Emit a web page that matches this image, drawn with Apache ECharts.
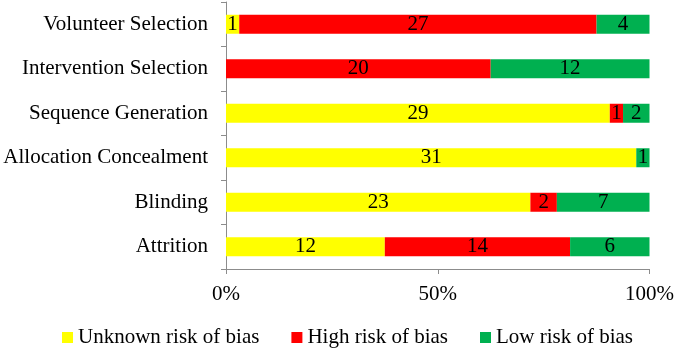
<!DOCTYPE html>
<html>
<head>
<meta charset="utf-8">
<script src="https://cdn.jsdelivr.net/npm/echarts@6/dist/echarts.min.js"></script>
<style>
  html, body { margin: 0; padding: 0; background: #fff; }
  #chart { width: 677px; height: 348px; }
</style>
</head>
<body>
<div id="chart"></div>
<script>
// domains, top to bottom
const domains = ['Volunteer Selection', 'Intervention Selection', 'Sequence Generation',
  'Allocation Concealment', 'Blinding', 'Attrition'];
// number of studies per domain
const unknownRisk = [1, 0, 29, 31, 23, 12];
const highRisk = [27, 20, 1, 0, 2, 14];
const lowRisk = [4, 12, 2, 1, 7, 6];
const totalStudies = 32;
const tickPercents = ['0%', '50%', '100%'];

const font = '"Liberation Serif", "Times New Roman", serif';
const axisGrey = '#8c8c8c';

function barSeries(name, data, color) {
  return {
    name: name,
    type: 'bar',
    stack: 'risk',
    barWidth: 19,
    data: data,
    itemStyle: { color: color },
    label: {
      show: true,
      position: 'inside',
      color: '#000',
      fontFamily: font,
      fontSize: 21,
      formatter: p => (p.value > 0 ? p.value : '')
    }
  };
}

let chart = echarts.init(document.getElementById('chart'));
chart.setOption({
  animation: false,
  textStyle: { fontFamily: font },
  grid: { left: 226, right: 26, top: 2, bottom: 79 },
  legend: {
    left: 57,
    top: 322,
    itemWidth: 11,
    itemHeight: 11,
    itemGap: 32,
    icon: 'rect',
    textStyle: { fontFamily: font, fontSize: 21, color: '#000' },
    data: ['Unknown risk of bias', 'High risk of bias', 'Low risk of bias']
  },
  xAxis: {
    type: 'value',
    min: 0,
    max: totalStudies,
    interval: totalStudies / 2,
    splitLine: { show: false },
    axisLine: { show: true, lineStyle: { color: axisGrey, width: 1 } },
    axisTick: { show: true, length: 5, lineStyle: { color: axisGrey } },
    axisLabel: {
      margin: 15,
      color: '#000',
      fontFamily: font,
      fontSize: 21,
      formatter: (v) => tickPercents[Math.round(v / (totalStudies / 2))]
    }
  },
  yAxis: {
    type: 'category',
    inverse: true,
    data: domains,
    axisLine: { show: true, lineStyle: { color: axisGrey, width: 1 } },
    axisTick: { show: true, length: 5, lineStyle: { color: axisGrey } },
    axisLabel: { margin: 18, color: '#000', fontFamily: font, fontSize: 21 }
  },
  series: [
    barSeries('Unknown risk of bias', unknownRisk, '#ffff00'),
    barSeries('High risk of bias', highRisk, '#ff0000'),
    barSeries('Low risk of bias', lowRisk, '#00b050')
  ]
});
</script>
</body>
</html>
